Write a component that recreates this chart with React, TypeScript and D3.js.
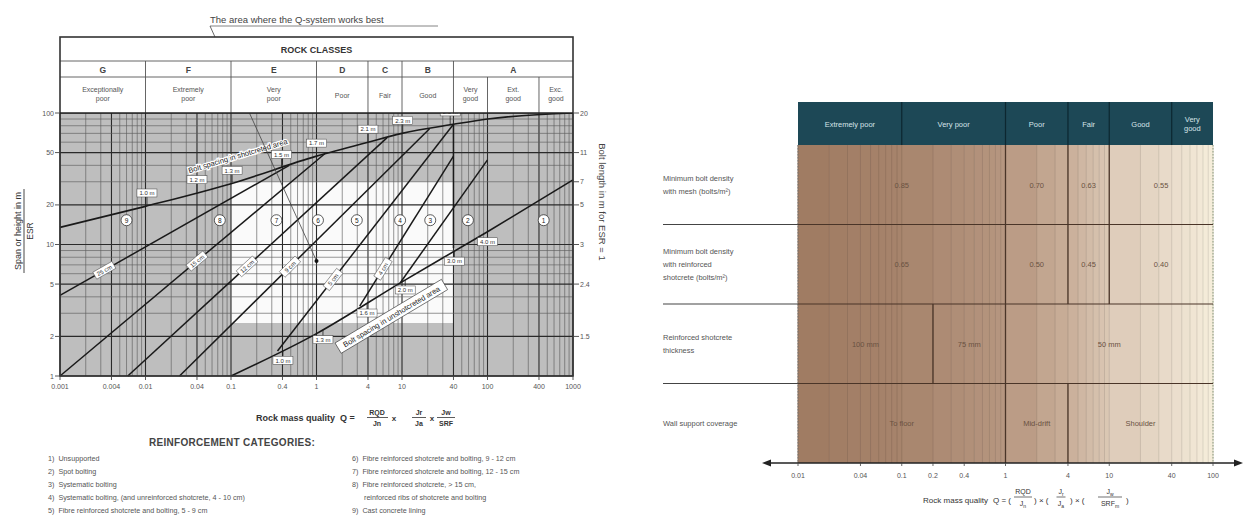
import React from "react";
import * as d3 from "d3";

const FONT = "'Liberation Sans', Arial, Helvetica, sans-serif";

// ---------------- Left chart data (Q-system support chart) ----------------
const rockClassLetters = ["G", "F", "E", "D", "C", "B", "A"];
const rockClassBounds = [0.001, 0.01, 0.1, 1, 4, 10, 40, 1000];
const rockDescriptors = [
  ["Exceptionally", "poor"], ["Extremely", "poor"], ["Very", "poor"], ["Poor"], ["Fair"],
  ["Good"], ["Very", "good"], ["Ext.", "good"], ["Exc.", "good"],
];
const descriptorBounds = [0.001, 0.01, 0.1, 1, 4, 10, 40, 100, 400, 1000];
const qTickValues = [0.001, 0.004, 0.01, 0.04, 0.1, 0.4, 1, 4, 10, 40, 100, 400, 1000];
const qTickLabels = ["0.001", "0.004", "0.01", "0.04", "0.1", "0.4", "1", "4", "10", "40", "100", "400", "1000"];
const spanTicks = [1, 2, 5, 10, 20, 50, 100];
const boltLengthAt = [100, 50, 30, 20, 10, 5, 2];
const boltLengthLabels = ["20", "11", "7", "5", "3", "2.4", "1.5"];
const shotcretedCurve: [number, number][] = [
  [0.001, 13.5], [0.01, 19.5], [0.1, 29], [1, 47], [4, 60], [10, 70], [40, 82], [100, 90], [1000, 100],
];
const unshotcretedCurve: [number, number][] = [[0.1, 1], [1, 2.1], [10, 5.2], [100, 12.5], [1000, 31]];
const boundaryLines: [number, number][][] = [
  [[0.001, 4.1], [0.48, 40]],
  [[0.001, 1], [1.25, 49]],
  [[0.0062, 1], [6.7, 65]],
  [[0.025, 1], [21, 76]],
  [[0.35, 1.55], [40, 82]],
  [[3.2, 3.4], [40, 47]],
  [[40, 9.4], [40, 82]],
  [[9.5, 5.1], [100, 44]],
];
const thicknessLabels = ["25 cm", "15 cm", "12 cm", "9 cm", "5 cm", "4 cm"];
const thicknessLabelQ = [0.0033, 0.04, 0.154, 0.49, 1.56, 6.0];
const shotcretedSpacingLabels = ["1.0 m", "1.2 m", "1.3 m", "1.5 m", "1.7 m", "2.1 m", "2.3 m", "2.5 m"];
const shotcretedSpacingQ = [0.0104, 0.04, 0.103, 0.39, 1.0, 4.0, 10.2, 36.6];
const unshotcretedSpacingLabels = ["1.0 m", "1.3 m", "1.6 m", "2.0 m", "3.0 m", "4.0 m"];
const unshotcretedSpacingQ = [0.405, 1.19, 3.9, 10.9, 41, 100];
const categoryNumbers = ["9", "8", "7", "6", "5", "4", "3", "2", "1"];
const categoryQ = [0.006, 0.074, 0.34, 1.04, 2.96, 9.5, 21.4, 59, 454];
const categorySpan = 15.3;
const bestAreaQ = [0.1, 40];
const bestAreaSpan = [2.53, 30];
const bestPoint: [number, number] = [1, 7.5];
const categoriesLeft = [
  "1)  Unsupported",
  "2)  Spot bolting",
  "3)  Systematic bolting",
  "4)  Systematic bolting, (and unreinforced shotcrete, 4 - 10 cm)",
  "5)  Fibre reinforced shotcrete and bolting, 5 - 9 cm",
];
const categoriesRight = [
  "6)  Fibre reinforced shotcrete and bolting, 9 - 12 cm",
  "7)  Fibre reinforced shotcrete and bolting, 12 - 15 cm",
  "8)  Fibre reinforced shotcrete, > 15 cm,",
  "      reinforced ribs of shotcrete and bolting",
  "9)  Cast concrete lining",
];

// ---------------- Right chart data (support table) ----------------
const rmTickValues = [0.01, 0.04, 0.1, 0.2, 0.4, 1, 4, 10, 40, 100];
const rmTickLabels = ["0.01", "0.04", "0.1", "0.2", "0.4", "1", "4", "10", "40", "100"];
const rmClassNames = [["Extremely poor"], ["Very poor"], ["Poor"], ["Fair"], ["Good"], ["Very", "good"]];
const rmClassBounds = [0.01, 0.1, 1, 4, 10, 40, 100];
const rowLabels = [
  ["Minimum bolt density", "with mesh (bolts/m²)"],
  ["Minimum bolt density", "with reinforced", "shotcrete (bolts/m²)"],
  ["Reinforced shotcrete", "thickness"],
  ["Wall support coverage"],
];
const meshDensityBounds = [0.01, 1, 4, 10, 100];
const meshDensityValues = ["0.85", "0.70", "0.63", "0.55"];
const shotcreteDensityBounds = [0.01, 1, 4, 10, 100];
const shotcreteDensityValues = ["0.65", "0.50", "0.45", "0.40"];
const thicknessBounds = [0.01, 0.2, 1, 100];
const thicknessValues = ["100 mm", "75 mm", "50 mm"];
const coverageBounds = [0.01, 1, 4, 100];
const coverageValues = ["To floor", "Mid-drift", "Shoulder"];
const shadeQ = [0.01, 0.1, 1, 4, 10, 40, 100];
const shadeColors = ["#9f7a61", "#a7846c", "#b69680", "#c9ae99", "#dbc8b5", "#e9dccb", "#f6eedb"];

function minorTicks(lo: number, hi: number) {
  const out: number[] = [];
  for (let k = Math.floor(Math.log10(lo)); k <= Math.ceil(Math.log10(hi)); k++) {
    for (let m = 1; m <= 9; m++) {
      const v = +(m * Math.pow(10, k)).toPrecision(6);
      if (v >= lo * 0.999 && v <= hi * 1.001) out.push(v);
    }
  }
  return out;
}

function interpLog(pts: [number, number][], q: number) {
  const lq = Math.log10(q);
  for (let i = 0; i < pts.length - 1; i++) {
    const a = Math.log10(pts[i][0]), b = Math.log10(pts[i + 1][0]);
    if (lq >= Math.min(a, b) - 1e-9 && lq <= Math.max(a, b) + 1e-9) {
      const t = b === a ? 0 : (lq - a) / (b - a);
      return Math.pow(10, Math.log10(pts[i][1]) + t * (Math.log10(pts[i + 1][1]) - Math.log10(pts[i][1])));
    }
  }
  return pts[pts.length - 1][1];
}

function LeftChart() {
  const x = d3.scaleLog().domain([0.001, 1000]).range([60, 573]);
  const y = d3.scaleLog().domain([1, 100]).range([376, 113]);
  const top = 37, rowA = 61, rowB = 77;
  const line = d3.line<[number, number]>().x((d) => x(d[0])).y((d) => y(d[1]));
  const curve = d3.line<[number, number]>().x((d) => x(d[0])).y((d) => y(d[1])).curve(d3.curveMonotoneX);
  const qMinor = minorTicks(0.001, 1000);
  const sMinor = minorTicks(1, 100);
  const bold = new Set(qTickValues.map(String));
  const sBold = new Set(spanTicks.map(String));

  const annText = "The area where the Q-system works best";
  const annX = 210, annY = 23;

  const shotA = 0.02, shotB = 1.0;
  const sx1 = x(shotA), sy1 = y(interpLog(shotcretedCurve, shotA));
  const sx2 = x(shotB), sy2 = y(interpLog(shotcretedCurve, shotB));
  const shotAngle = (Math.atan2(sy2 - sy1, sx2 - sx1) * 180) / Math.PI;
  const shotQc = 0.12;
  const unA = 1, unB = 40;
  const ux1 = x(unA), uy1 = y(interpLog(unshotcretedCurve, unA));
  const ux2 = x(unB), uy2 = y(interpLog(unshotcretedCurve, unB));
  const unAngle = (Math.atan2(uy2 - uy1, ux2 - ux1) * 180) / Math.PI;
  const unQc = 7.5;

  return (
    <g fontFamily={FONT}>
      <text x={annX} y={annY} fontSize={9.5} fill="#444">{annText}</text>
      <line x1={annX} x2={annX + 228} y1={annY + 3} y2={annY + 3} stroke="#666" strokeWidth={0.8} />

      <rect x={x(0.001)} y={y(100)} width={x(1000) - x(0.001)} height={y(1) - y(100)} fill="#bebebe" />
      <rect x={x(bestAreaQ[0])} y={y(bestAreaSpan[1])} width={x(bestAreaQ[1]) - x(bestAreaQ[0])}
        height={y(bestAreaSpan[0]) - y(bestAreaSpan[1])} fill="#fafafa" />

      {qMinor.map((q) => (
        <line key={"gq" + q} x1={x(q)} x2={x(q)} y1={y(100)} y2={y(1)}
          stroke={bold.has(String(q)) ? "#2a2a2a" : "#5e5e5e"} strokeWidth={bold.has(String(q)) ? 1.1 : 0.65} />
      ))}
      {sMinor.map((s) => (
        <line key={"gs" + s} x1={x(0.001)} x2={x(1000)} y1={y(s)} y2={y(s)}
          stroke={sBold.has(String(s)) ? "#2a2a2a" : "#5e5e5e"} strokeWidth={sBold.has(String(s)) ? 1.1 : 0.65} />
      ))}

      <path d={curve(shotcretedCurve) || ""} fill="none" stroke="#1a1a1a" strokeWidth={1.6} />
      <path d={curve(unshotcretedCurve) || ""} fill="none" stroke="#1a1a1a" strokeWidth={1.6} />
      {boundaryLines.map((b, i) => (
        <path key={"b" + i} d={line(b) || ""} fill="none" stroke="#1a1a1a" strokeWidth={1.5} />
      ))}

      {thicknessLabels.map((t, i) => {
        const b = boundaryLines[i];
        const q = thicknessLabelQ[i];
        const px = x(q), py = y(interpLog(b, q));
        const ang = (Math.atan2(y(b[1][1]) - y(b[0][1]), x(b[1][0]) - x(b[0][0])) * 180) / Math.PI;
        return (
          <g key={"tl" + i} transform={`translate(${px},${py}) rotate(${ang})`}>
            <rect x={-11} y={-4} width={22} height={8} fill="#fff" stroke="#444" strokeWidth={0.5} />
            <text x={0} y={2.3} fontSize={6} textAnchor="middle" fill="#333">{t}</text>
          </g>
        );
      })}

      {shotcretedSpacingLabels.map((t, i) => {
        const q = shotcretedSpacingQ[i];
        const px = x(q), py = y(interpLog(shotcretedCurve, q));
        return (
          <g key={"sl" + i}>
            <line x1={px} x2={px} y1={py} y2={py - 9} stroke="#222" strokeWidth={0.8} />
            <rect x={px - 10} y={py - 17} width={20} height={8} fill="#fff" stroke="#444" strokeWidth={0.5} />
            <text x={px} y={py - 10.7} fontSize={6} textAnchor="middle" fill="#333">{t}</text>
          </g>
        );
      })}
      {unshotcretedSpacingLabels.map((t, i) => {
        const q = unshotcretedSpacingQ[i];
        const px = x(q), py = y(interpLog(unshotcretedCurve, q));
        return (
          <g key={"ul" + i}>
            <line x1={px} x2={px} y1={py} y2={py + 6} stroke="#222" strokeWidth={0.8} />
            <rect x={px - 10} y={py + 6} width={20} height={8} fill="#fff" stroke="#444" strokeWidth={0.5} />
            <text x={px} y={py + 12.3} fontSize={6} textAnchor="middle" fill="#333">{t}</text>
          </g>
        );
      })}

      <g transform={`translate(${x(shotQc)},${y(interpLog(shotcretedCurve, shotQc)) - 26}) rotate(${shotAngle})`}>
        <text x={0} y={3} fontSize={7.5} textAnchor="middle" fill="#222" stroke="#fff" strokeWidth={2.5}
          paintOrder="stroke">Bolt spacing in shotcreted area</text>
      </g>
      <g transform={`translate(${x(unQc)},${y(interpLog(unshotcretedCurve, unQc)) + 28}) rotate(${unAngle})`}>
        <rect x={-62} y={-6} width={124} height={12} fill="#fff" stroke="#333" strokeWidth={0.6} />
        <text x={0} y={3} fontSize={7.5} textAnchor="middle" fill="#222">Bolt spacing in unshotcreted area</text>
      </g>

      {categoryNumbers.map((n, i) => (
        <g key={"c" + n}>
          <circle cx={x(categoryQ[i])} cy={y(categorySpan)} r={5.5} fill="#fff" stroke="#333" strokeWidth={0.8} />
          <text x={x(categoryQ[i])} y={y(categorySpan) + 2.3} fontSize={6.5} textAnchor="middle" fill="#222">{n}</text>
        </g>
      ))}

      <line x1={annX} y1={annY + 3} x2={x(bestPoint[0])} y2={y(bestPoint[1])} stroke="#444" strokeWidth={0.8} />
      <circle cx={x(bestPoint[0])} cy={y(bestPoint[1])} r={2} fill="#111" />

      <rect x={x(0.001)} y={top} width={x(1000) - x(0.001)} height={y(100) - top} fill="#fff" />
      <text x={(x(0.001) + x(1000)) / 2} y={top + 16} fontSize={9} fontWeight="bold" textAnchor="middle" fill="#333">ROCK CLASSES</text>
      <line x1={x(0.001)} x2={x(1000)} y1={rowA} y2={rowA} stroke="#555" strokeWidth={0.9} />
      <line x1={x(0.001)} x2={x(1000)} y1={rowB} y2={rowB} stroke="#555" strokeWidth={0.9} />
      {rockClassLetters.map((l, i) => {
        const a = x(rockClassBounds[i]), b = x(rockClassBounds[i + 1]);
        return (
          <g key={"rc" + l}>
            <text x={(a + b) / 2} y={rowA + 11.5} fontSize={8.5} fontWeight="bold" textAnchor="middle" fill="#444">{l}</text>
            {i > 0 && <line x1={a} x2={a} y1={rowA} y2={rowB} stroke="#555" strokeWidth={0.9} />}
          </g>
        );
      })}
      {rockDescriptors.map((d, i) => {
        const a = x(descriptorBounds[i]), b = x(descriptorBounds[i + 1]);
        const y0 = d.length === 1 ? rowB + 21 : rowB + 15;
        return (
          <g key={"rd" + i}>
            {d.map((s, j) => (
              <text key={j} x={(a + b) / 2} y={y0 + j * 9} fontSize={7} textAnchor="middle" fill="#555">{s}</text>
            ))}
            {i > 0 && <line x1={a} x2={a} y1={rowB} y2={y(100)} stroke="#555" strokeWidth={0.9} />}
          </g>
        );
      })}
      <rect x={x(0.001)} y={top} width={x(1000) - x(0.001)} height={y(1) - top} fill="none" stroke="#333" strokeWidth={1.6} />
      <line x1={x(0.001)} x2={x(1000)} y1={y(100)} y2={y(100)} stroke="#222" strokeWidth={1.6} />

      {spanTicks.map((s) => (
        <g key={"ys" + s}>
          <line x1={x(0.001) - 5} x2={x(0.001)} y1={y(s)} y2={y(s)} stroke="#444" strokeWidth={0.9} />
          <text x={x(0.001) - 6} y={y(s) + 2.5} fontSize={7} textAnchor="end" fill="#555">{s}</text>
        </g>
      ))}
      {boltLengthAt.map((s, i) => (
        <g key={"yb" + s}>
          <line x1={x(1000)} x2={x(1000) + 6} y1={y(s)} y2={y(s)} stroke="#444" strokeWidth={0.9} />
          <text x={x(1000) + 7} y={y(s) + 2.5} fontSize={7} fill="#555">{boltLengthLabels[i]}</text>
        </g>
      ))}
      {qTickValues.map((q, i) => (
        <g key={"xq" + q}>
          <line x1={x(q)} x2={x(q)} y1={y(1)} y2={y(1) + 4} stroke="#444" strokeWidth={0.9} />
          <text x={x(q)} y={y(1) + 13} fontSize={7} textAnchor="middle" fill="#555">{qTickLabels[i]}</text>
        </g>
      ))}
      <g transform="translate(21,231) rotate(-90)">
        <text x={0} y={0} fontSize={9} textAnchor="middle" fill="#333">Span or height in m</text>
        <line x1={-42} x2={42} y1={3} y2={3} stroke="#333" strokeWidth={0.9} />
        <text x={0} y={12} fontSize={8.5} textAnchor="middle" fill="#333">ESR</text>
      </g>
      <g transform="translate(599,202) rotate(90)">
        <text x={0} y={0} fontSize={9.5} textAnchor="middle" fill="#444">Bolt length in m for ESR = 1</text>
      </g>

      <g fill="#333">
        <text x={335} y={421} fontSize={9} fontWeight="bold" textAnchor="end">Rock mass quality</text>
        <text x={340} y={421} fontSize={9} fontWeight="bold">Q =</text>
        <text x={377} y={415} fontSize={7} fontWeight="bold" textAnchor="middle">RQD</text>
        <line x1={367} x2={388} y1={417.5} y2={417.5} stroke="#333" strokeWidth={0.8} />
        <text x={377} y={426} fontSize={7} fontWeight="bold" textAnchor="middle">Jn</text>
        <text x={394} y={421} fontSize={8} fontWeight="bold" textAnchor="middle">x</text>
        <text x={419} y={415} fontSize={7} fontWeight="bold" textAnchor="middle">Jr</text>
        <line x1={412} x2={426} y1={417.5} y2={417.5} stroke="#333" strokeWidth={0.8} />
        <text x={419} y={426} fontSize={7} fontWeight="bold" textAnchor="middle">Ja</text>
        <text x={432} y={421} fontSize={8} fontWeight="bold" textAnchor="middle">x</text>
        <text x={446} y={415} fontSize={7} fontWeight="bold" textAnchor="middle">Jw</text>
        <line x1={437} x2={455} y1={417.5} y2={417.5} stroke="#333" strokeWidth={0.8} />
        <text x={446} y={426} fontSize={7} fontWeight="bold" textAnchor="middle">SRF</text>
      </g>

      <text x={232} y={446} fontSize={10} fontWeight="bold" textAnchor="middle" fill="#444" letterSpacing={0.3}>REINFORCEMENT CATEGORIES:</text>
      {categoriesLeft.map((t, i) => (
        <text key={"cl" + i} x={48} y={461 + i * 13} fontSize={7.2} fill="#555" style={{ whiteSpace: "pre" }}>{t}</text>
      ))}
      {categoriesRight.map((t, i) => (
        <text key={"cr" + i} x={352} y={461 + i * 13} fontSize={7.2} fill="#555" style={{ whiteSpace: "pre" }}>{t}</text>
      ))}
    </g>
  );
}

function Frac({ cx, num, den, numSub, denSub, w }: { cx: number; num: string; den: string; numSub?: string; denSub?: string; w: number }) {
  return (
    <g>
      <text x={cx} y={494} textAnchor="middle" fontSize={7}>
        {num}{numSub && <tspan fontSize={5} dy={1.5}>{numSub}</tspan>}
      </text>
      <line x1={cx - w / 2} x2={cx + w / 2} y1={497} y2={497} stroke="#333" strokeWidth={0.7} />
      <text x={cx} y={506} textAnchor="middle" fontSize={7}>
        {den}{denSub && <tspan fontSize={5} dy={1.5}>{denSub}</tspan>}
      </text>
    </g>
  );
}

function RightChart() {
  const x = d3.scaleLog().domain([0.01, 100]).range([798, 1213]);
  const rowY = d3.scaleLinear().domain([0, 4]).range([145, 463]);
  const headTop = 102;
  const shade = d3.scaleLog<string>().domain(shadeQ).range(shadeColors).interpolate(d3.interpolateRgb);
  const minor = minorTicks(0.01, 100);
  const stripes = minor.slice(0, -1).map((q, i) => [q, minor[i + 1]]);
  const rows = [
    { bounds: meshDensityBounds, values: meshDensityValues },
    { bounds: shotcreteDensityBounds, values: shotcreteDensityValues },
    { bounds: thicknessBounds, values: thicknessValues },
    { bounds: coverageBounds, values: coverageValues },
  ];
  const axisY = rowY(4);
  return (
    <g fontFamily={FONT}>
      {stripes.map(([a, b], i) => (
        <rect key={"st" + i} x={x(a)} y={rowY(0)} width={x(b) - x(a) + 0.3} height={axisY - rowY(0)}
          fill={shade(Math.sqrt(a * b))} />
      ))}
      {minor.map((q) => (
        <line key={"ml" + q} x1={x(q)} x2={x(q)} y1={rowY(0)} y2={axisY}
          stroke={d3.color(shade(q))!.darker(0.35).toString()} strokeWidth={0.9} />
      ))}
      <line x1={x(0.01)} x2={x(0.01)} y1={rowY(0)} y2={axisY} stroke="#777" strokeWidth={1} strokeDasharray="1.5,1.5" />
      <line x1={x(100)} x2={x(100)} y1={rowY(0)} y2={axisY} stroke="#8a9a80" strokeWidth={1} strokeDasharray="1.5,1.5" />

      <rect x={x(0.01)} y={headTop} width={x(100) - x(0.01)} height={rowY(0) - headTop} fill="#1d4856" />
      {rmClassNames.map((n, i) => {
        const a = x(rmClassBounds[i]), b = x(rmClassBounds[i + 1]);
        const cy = (headTop + rowY(0)) / 2;
        return (
          <g key={"h" + i}>
            {n.map((s, j) => (
              <text key={j} x={(a + b) / 2} y={cy + 3 + (j - (n.length - 1) / 2) * 9} fontSize={7.5}
                textAnchor="middle" fill="#d5e3e8">{s}</text>
            ))}
            {i > 0 && <line x1={a} x2={a} y1={headTop} y2={rowY(0)} stroke="#0c2730" strokeWidth={1.2} />}
          </g>
        );
      })}

      {[1, 2, 3].map((r) => (
        <g key={"rl" + r}>
          <line x1={663} x2={x(0.01)} y1={rowY(r)} y2={rowY(r)} stroke="#444" strokeWidth={1.1} />
          <line x1={x(0.01)} x2={x(100)} y1={rowY(r)} y2={rowY(r)} stroke="#4a3528" strokeWidth={1.1} />
        </g>
      ))}
      {rowLabels.map((lines, r) => {
        const cy = (rowY(r) + rowY(r + 1)) / 2;
        return lines.map((s, j) => (
          <text key={"lab" + r + j} x={663} y={cy + 3 + (j - (lines.length - 1) / 2) * 13} fontSize={7.5} fill="#555">{s}</text>
        ));
      })}
      {rows.map((row, r) => {
        const cy = (rowY(r) + rowY(r + 1)) / 2;
        return (
          <g key={"row" + r}>
            {row.values.map((v, i) => {
              const a = x(row.bounds[i]), b = x(row.bounds[i + 1]);
              return (
                <g key={i}>
                  <text x={(a + b) / 2} y={cy + 3} fontSize={7.5} textAnchor="middle" fill="#6a5242">{v}</text>
                  {i > 0 && <line x1={a} x2={a} y1={rowY(r)} y2={rowY(r + 1)} stroke="#4a3528" strokeWidth={1.3} />}
                </g>
              );
            })}
          </g>
        );
      })}

      <line x1={766} x2={1238} y1={axisY} y2={axisY} stroke="#222" strokeWidth={1.3} />
      <path d={`M762,${axisY} L771,${axisY - 3.5} L771,${axisY + 3.5} Z`} fill="#222" />
      <path d={`M1243,${axisY} L1234,${axisY - 3.5} L1234,${axisY + 3.5} Z`} fill="#222" />
      {rmTickValues.map((q, i) => (
        <g key={"rt" + q}>
          <line x1={x(q)} x2={x(q)} y1={axisY} y2={axisY + 3} stroke="#444" strokeWidth={0.8} />
          <text x={x(q)} y={axisY + 15} fontSize={7} textAnchor="middle" fill="#555">{rmTickLabels[i]}</text>
        </g>
      ))}
      <g fill="#333" fontSize={8}>
        <text x={988} y={503} textAnchor="end">Rock mass quality</text>
        <text x={993} y={503}>Q = (</text>
        <Frac cx={1023} num="RQD" den="J" denSub="n" w={18} />
        <text x={1034} y={503}>) × (</text>
        <Frac cx={1061} num="J" numSub="r" den="J" denSub="a" w={9} />
        <text x={1070} y={503}>) × (</text>
        <Frac cx={1110} num="J" numSub="w" den="SRF" denSub="m" w={24} />
        <text x={1126} y={503}>)</text>
      </g>
    </g>
  );
}

export default function App() {
  return (
    <svg width={1245} height={515} viewBox="0 0 1245 515"
      style={{ position: "absolute", left: 0, top: 0, background: "#fff" }}>
      <rect x={0} y={0} width={1245} height={515} fill="#fff" />
      <LeftChart />
      <RightChart />
    </svg>
  );
}
